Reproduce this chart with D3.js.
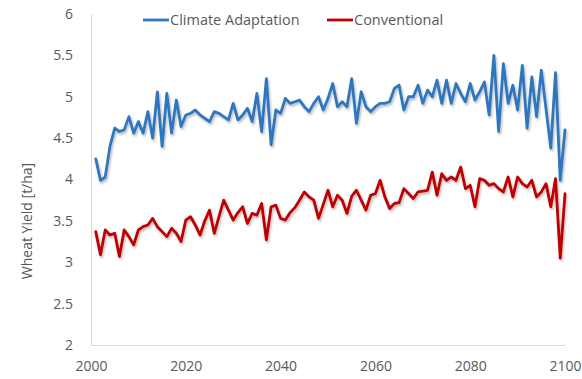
<!DOCTYPE html>
<html>
<head>
<meta charset="utf-8">
<script src="https://cdn.jsdelivr.net/npm/d3@7/dist/d3.min.js"></script>
<style>
  html, body { margin: 0; padding: 0; background: #fff; }
  svg { display: block; }
  text { font-family: "Open Sans", "Liberation Sans", sans-serif; fill: #595959; }
</style>
</head>
<body>
<svg id="chart" width="582" height="379"></svg>
<script>
// Simulated wheat yield [t/ha], one value per year 2001-2100
const years = d3.range(2001, 2101);

const adaptation = [
  4.25, 3.99, 4.03, 4.40, 4.62, 4.58, 4.60, 4.76, 4.56, 4.70,
  4.56, 4.82, 4.50, 5.06, 4.40, 5.04, 4.56, 4.96, 4.64, 4.78,
  4.80, 4.84, 4.78, 4.74, 4.70, 4.82, 4.80, 4.76, 4.72, 4.92,
  4.72, 4.78, 4.86, 4.70, 5.04, 4.58, 5.22, 4.42, 4.84, 4.80,
  4.98, 4.92, 4.94, 4.96, 4.88, 4.82, 4.92, 5.00, 4.84, 4.98,
  5.16, 4.88, 4.94, 4.88, 5.22, 4.68, 5.06, 4.88, 4.82, 4.88,
  4.92, 4.92, 4.94, 5.10, 5.14, 4.84, 5.00, 5.00, 5.14, 4.92,
  5.08, 5.00, 5.20, 4.92, 5.20, 4.92, 5.16, 5.04, 4.94, 5.16,
  4.96, 5.06, 5.18, 4.78, 5.50, 4.58, 5.40, 4.92, 5.14, 4.84,
  5.38, 4.62, 5.24, 4.76, 5.32, 4.85, 4.38, 5.29, 3.99, 4.60
];

const conventional = [
  3.37, 3.09, 3.39, 3.33, 3.35, 3.07, 3.39, 3.31, 3.21, 3.39,
  3.43, 3.45, 3.53, 3.43, 3.37, 3.31, 3.41, 3.35, 3.25, 3.51,
  3.55, 3.45, 3.33, 3.50, 3.63, 3.35, 3.55, 3.75, 3.63, 3.51,
  3.60, 3.67, 3.47, 3.59, 3.57, 3.71, 3.27, 3.67, 3.69, 3.53,
  3.51, 3.60, 3.66, 3.75, 3.85, 3.79, 3.75, 3.53, 3.70, 3.87,
  3.67, 3.81, 3.75, 3.59, 3.80, 3.87, 3.75, 3.63, 3.81, 3.83,
  3.99, 3.79, 3.65, 3.71, 3.72, 3.89, 3.83, 3.77, 3.85, 3.86,
  3.87, 4.09, 3.81, 4.07, 3.99, 4.03, 3.99, 4.15, 3.89, 3.93,
  3.67, 4.01, 3.99, 3.93, 3.95, 3.89, 3.85, 4.03, 3.79, 4.03,
  3.95, 3.91, 3.99, 3.79, 3.85, 3.95, 3.67, 4.01, 3.05, 3.83
];

const xTicks = [2000, 2020, 2040, 2060, 2080, 2100];
const yTicks = [2, 2.5, 3, 3.5, 4, 4.5, 5, 5.5, 6];

const seriesNames = ["Climate Adaptation", "Conventional"];
const seriesColors = ["#2f77c0", "#c00000"];
const seriesValues = [adaptation, conventional];

const svg = d3.select("#chart");
const margin = { left: 91, right: 17, top: 14, bottom: 34 };
const W = 582, H = 379;

const x = d3.scaleLinear().domain([2000, 2100]).range([margin.left, W - margin.right]);
const y = d3.scaleLinear().domain([2, 6]).range([H - margin.bottom, margin.top]);

// soft drop shadow under the series lines
const defs = svg.append("defs");
const f = defs.append("filter").attr("id", "shadow")
  .attr("x", "-5%").attr("y", "-20%").attr("width", "110%").attr("height", "140%");
f.append("feDropShadow").attr("dx", 1.2).attr("dy", 2).attr("stdDeviation", 1.3)
  .attr("flood-color", "#000").attr("flood-opacity", 0.28);

// axes
const yAxis = d3.axisLeft(y).tickValues(yTicks).tickSize(0).tickPadding(18)
  .tickFormat(d3.format("~g"));
const gy = svg.append("g").attr("transform", `translate(${margin.left},0)`).call(yAxis);
gy.select(".domain").attr("stroke", "#d9d9d9").attr("stroke-width", 1);
gy.selectAll("text").style("font-size", "14px").attr("fill", "#595959")
  .style("font-family", '"Open Sans", sans-serif');

const xAxis = d3.axisBottom(x).tickValues(xTicks).tickSize(0).tickPadding(16)
  .tickFormat(d3.format("d"));
const gx = svg.append("g").attr("transform", `translate(0,${H - margin.bottom})`).call(xAxis);
gx.select(".domain").attr("stroke", "#d9d9d9").attr("stroke-width", 1);
gx.selectAll("text").style("font-size", "14px").attr("fill", "#595959")
  .style("font-family", '"Open Sans", sans-serif');

// y axis title
svg.append("text")
  .attr("transform", `translate(32,${221}) rotate(-90)`)
  .attr("text-anchor", "middle")
  .style("font-size", "14px")
  .text("Wheat Yield [t/ha]");

// series lines
const line = d3.line().x((d, i) => x(years[i])).y(d => y(d));
svg.append("g").attr("filter", "url(#shadow)")
  .selectAll("path").data(seriesValues).join("path")
  .attr("d", d => line(d))
  .attr("fill", "none")
  .attr("stroke", (d, i) => seriesColors[i])
  .attr("stroke-width", 2.8)
  .attr("stroke-linejoin", "round")
  .attr("stroke-linecap", "round");

// legend
const legendX = [143, 327];
const lg = svg.append("g").selectAll("g").data(seriesNames).join("g")
  .attr("transform", (d, i) => `translate(${legendX[i]},20)`);
lg.append("line").attr("x1", 0).attr("x2", 26).attr("y1", 0).attr("y2", 0)
  .attr("stroke", (d, i) => seriesColors[i]).attr("stroke-width", 2.8);
lg.append("text").attr("x", 27).attr("y", 0).attr("dy", "0.35em")
  .style("font-size", "14.5px").text(d => d);
</script>
</body>
</html>
